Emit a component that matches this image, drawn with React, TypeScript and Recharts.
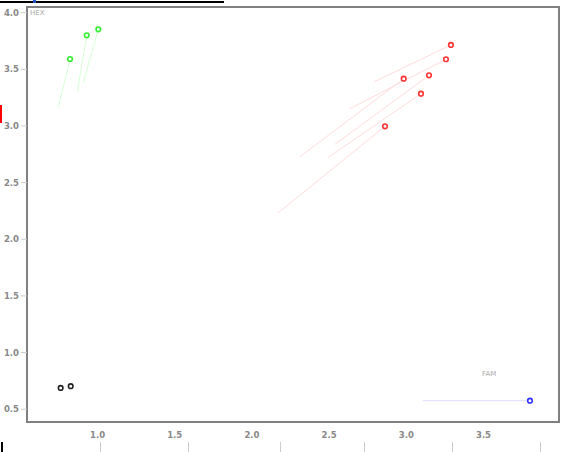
import { ScatterChart, Scatter, XAxis, YAxis, ReferenceArea } from 'recharts'

// axis setup
const xDomain = [0.543, 3.989]
const yDomain = [0.387, 4.05]
const xTicks = [1.0, 1.5, 2.0, 2.5, 3.0, 3.5]
const yTicks = [0.5, 1.0, 1.5, 2.0, 2.5, 3.0, 3.5, 4.0]

// HEX group (green)
const hexX = [0.822, 0.93, 1.005]
const hexY = [3.591, 3.8, 3.853]
const hexTailX = [0.746, 0.869, 0.908]
const hexTailY = [3.165, 3.303, 3.386]

// red group
const redX = [3.289, 3.257, 3.147, 2.983, 3.095, 2.862]
const redY = [3.715, 3.589, 3.447, 3.417, 3.285, 2.997]
const redTailX = [2.793, 2.635, 2.538, 2.311, 2.491, 2.171]
const redTailY = [3.391, 3.153, 2.838, 2.729, 2.72, 2.235]

// FAM group (blue)
const famX = [3.801]
const famY = [0.575]
const famTailX = [3.106]
const famTailY = [0.575]

// black group, no tails
const blackX = [0.761, 0.826]
const blackY = [0.688, 0.703]

const toPoints = (xs: number[], ys: number[]) => xs.map((x, i) => ({ x, y: ys[i] }))

const ring = (color: string) => (props: any) => (
  <circle cx={props.cx} cy={props.cy} r={2.3} fill="#fff" stroke={color} strokeWidth={1.6} />
)

const noDot = () => <g />

function Tails({ xs, ys, tx, ty, color, prefix }: any) {
  return xs.map((x: number, i: number) => (
    <Scatter
      key={`${prefix}-${i}`}
      data={[{ x: tx[i], y: ty[i] }, { x, y: ys[i] }]}
      line={{ stroke: color, strokeWidth: 1 }}
      shape={noDot}
      isAnimationActive={false}
    />
  ))
}

const tickStyle = { fontSize: 8.5, fontWeight: 'bold', fill: '#888', fontFamily: 'DejaVu Sans' }
const textStyle: any = { position: 'absolute', fontSize: 7, color: '#aaa', fontFamily: 'DejaVu Sans' }

export default function App() {
  return (
    <div style={{ position: 'absolute', left: 0, top: 0, width: 561, height: 452, background: '#fff', overflow: 'hidden' }}>
      <ScatterChart width={561} height={452} margin={{ top: 7, right: 2, left: 0, bottom: 0 }}>
        <XAxis
          type="number"
          dataKey="x"
          domain={xDomain}
          ticks={xTicks}
          tickFormatter={(v: number) => v.toFixed(1)}
          axisLine={false}
          tickLine={false}
          tickSize={8}
          tick={tickStyle}
          height={30}
          allowDataOverflow
        />
        <YAxis
          type="number"
          dataKey="y"
          domain={yDomain}
          ticks={yTicks}
          tickFormatter={(v: number) => v.toFixed(1)}
          axisLine={false}
          tickLine={{ stroke: '#ccc' }}
          tickSize={6}
          tick={tickStyle}
          width={27}
          allowDataOverflow
        />
        <ReferenceArea
          x1={xDomain[0]}
          x2={xDomain[1]}
          y1={yDomain[0]}
          y2={yDomain[1]}
          fill="none"
          stroke="#808080"
          strokeWidth={2}
          fillOpacity={0}
        />
        {Tails({ xs: hexX, ys: hexY, tx: hexTailX, ty: hexTailY, color: '#d6ffd6', prefix: 'hex' })}
        {Tails({ xs: redX, ys: redY, tx: redTailX, ty: redTailY, color: '#ffdcdc', prefix: 'red' })}
        {Tails({ xs: famX, ys: famY, tx: famTailX, ty: famTailY, color: '#dcdcff', prefix: 'fam' })}
        <Scatter data={toPoints(hexX, hexY)} shape={ring('#33ee33')} isAnimationActive={false} />
        <Scatter data={toPoints(redX, redY)} shape={ring('#ff3333')} isAnimationActive={false} />
        <Scatter data={toPoints(famX, famY)} shape={ring('#3333ff')} isAnimationActive={false} />
        <Scatter data={toPoints(blackX, blackY)} shape={ring('#222')} isAnimationActive={false} />
      </ScatterChart>
      <div style={{ ...textStyle, left: 30, top: 9 }}>HEX</div>
      <div style={{ ...textStyle, left: 482, top: 370 }}>FAM</div>
      {/* bits of the surrounding page that show in the crop */}
      <div style={{ position: 'absolute', left: 0, top: 1, width: 224, height: 2, background: '#000' }} />
      <div style={{ position: 'absolute', left: 33, top: 0, width: 3, height: 3, background: '#2255cc' }} />
      <div style={{ position: 'absolute', left: 0, top: 105, width: 2, height: 18, background: '#f00' }} />
      <div style={{ position: 'absolute', left: 1, top: 442, width: 2, height: 10, background: '#000' }} />
      {[100, 188, 280, 364, 452, 540].map((l) => (
        <div key={l} style={{ position: 'absolute', left: l, top: 442, width: 1, height: 10, background: '#ccc' }} />
      ))}
    </div>
  )
}
